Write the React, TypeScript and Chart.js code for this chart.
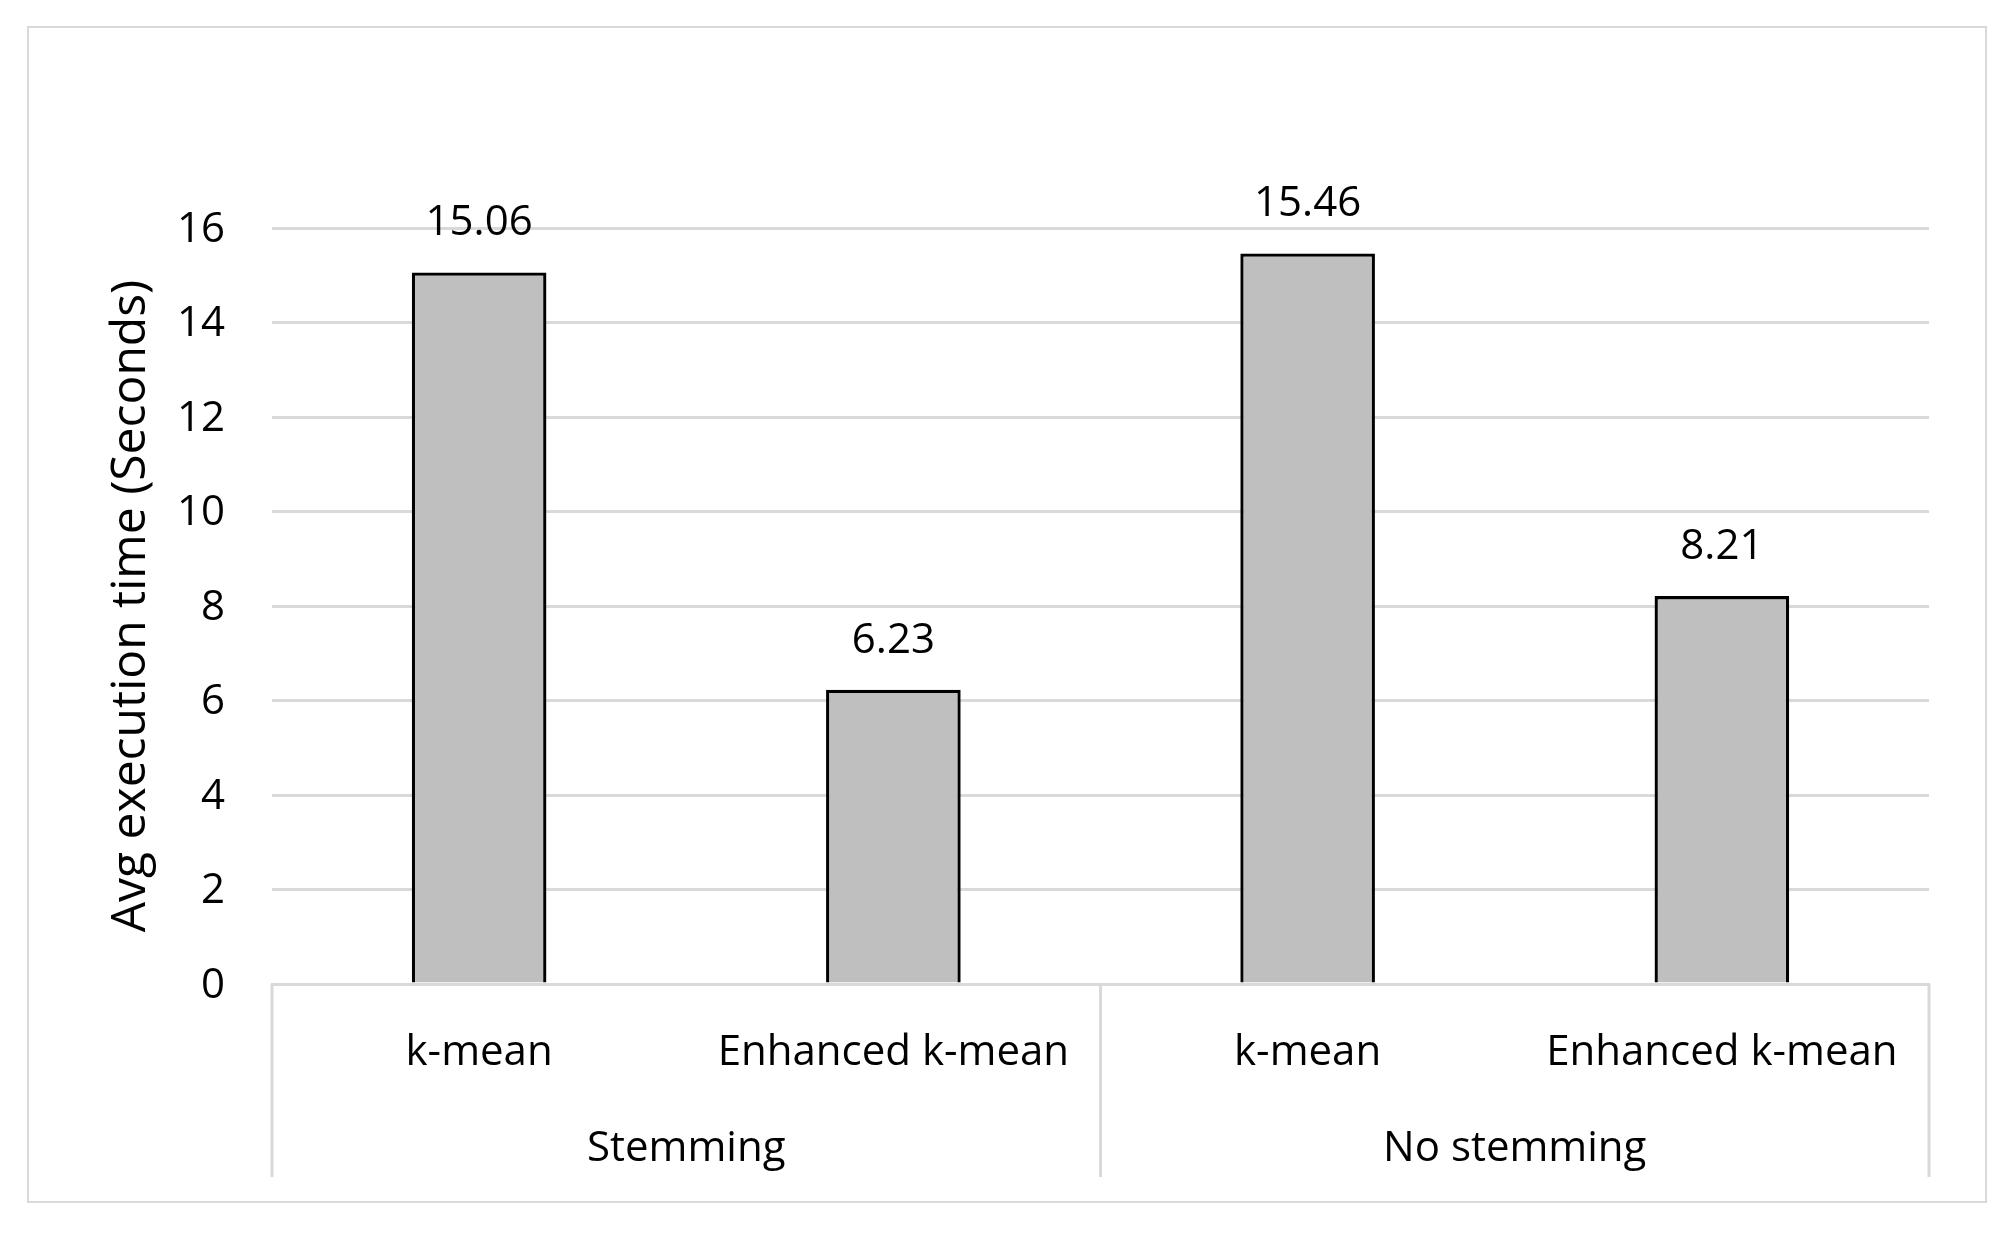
import React, { useEffect, useRef } from "react";
import { Chart, registerables } from "chart.js";

Chart.register(...registerables);

const groups = ["Stemming", "No stemming"];
const methods = ["k-mean", "Enhanced k-mean", "k-mean", "Enhanced k-mean"];
const execTimes = [15.06, 6.23, 15.46, 8.21];
const yMin = 0;
const yMax = 16;
const yStep = 2;
const yTitle = "Avg execution time (Seconds)";

const FONT = "'Open Sans', 'Noto Sans', sans-serif";
const GRID = "#d9d9d9";

const valueLabels = {
  id: "valueLabels",
  afterDatasetsDraw(chart: any) {
    const ctx = chart.ctx;
    const meta = chart.getDatasetMeta(0);
    ctx.save();
    ctx.font = `42px ${FONT}`;
    ctx.fillStyle = "#000";
    ctx.textAlign = "center";
    ctx.textBaseline = "middle";
    meta.data.forEach((el: any, i: number) => {
      ctx.fillText(execTimes[i].toFixed(2), el.x, el.y - 49);
    });
    ctx.restore();
  },
};

const groupSeparators = {
  id: "groupSeparators",
  afterDraw(chart: any) {
    const ctx = chart.ctx;
    const x = chart.scales.x;
    const x2 = chart.scales.x2;
    const mid = (x.getPixelForValue(1) + x.getPixelForValue(2)) / 2;
    const xs = [x.left, mid, x.right];
    ctx.save();
    ctx.strokeStyle = GRID;
    ctx.lineWidth = 3;
    xs.forEach((px) => {
      ctx.beginPath();
      ctx.moveTo(px, chart.chartArea.bottom);
      ctx.lineTo(px, x2.bottom);
      ctx.stroke();
    });
    ctx.restore();
  },
};

export default function App() {
  const ref = useRef<HTMLCanvasElement>(null);
  useEffect(() => {
    if (!ref.current) return;
    const chart = new Chart(ref.current, {
      type: "bar",
      data: {
        labels: methods,
        datasets: [
          {
            data: execTimes,
            backgroundColor: "#bfbfbf",
            borderColor: "#000",
            borderWidth: 3.3,
            categoryPercentage: 1,
            barPercentage: 0.325,
          },
        ],
      },
      options: {
        responsive: false,
        animation: false,
        devicePixelRatio: 1,
        layout: { padding: { top: 200, right: 56, bottom: 24, left: 0 } },
        plugins: {
          legend: { display: false },
          tooltip: { enabled: false },
        },
        scales: {
          y: {
            min: yMin,
            max: yMax,
            ticks: {
              stepSize: yStep,
              padding: 47,
              labelOffset: 2,
              color: "#000",
              font: { family: FONT, size: 42 },
            },
            grid: { color: GRID, lineWidth: 3, drawTicks: false },
            border: { display: false },
            title: {
              display: true,
              text: yTitle,
              color: "#000",
              font: { family: FONT, size: 48 },
              padding: { top: 74, bottom: 0 },
            },
            afterFit(scale: any) {
              scale.width = 243;
            },
          },
          x: {
            weight: 0,
            ticks: {
              padding: 44,
              color: "#000",
              maxRotation: 0,
              autoSkip: false,
              font: { family: FONT, size: 42 },
            },
            grid: { display: false, drawTicks: false },
            border: { display: true, color: GRID, width: 3 },
            afterFit(scale: any) {
              scale.height = 96;
            },
          },
          x2: {
            type: "category",
            position: "bottom",
            weight: 1,
            labels: groups,
            offset: true,
            ticks: {
              padding: 44,
              color: "#000",
              maxRotation: 0,
              autoSkip: false,
              font: { family: FONT, size: 42 },
            },
            grid: { display: false, drawTicks: false },
            border: { display: false },
            afterFit(scale: any) {
              scale.height = 97;
            },
          },
        },
      } as any,
      plugins: [valueLabels, groupSeparators],
    });
    return () => chart.destroy();
  }, []);

  return (
    <div
      style={{
        position: "absolute",
        left: 27,
        top: 26,
        width: 1956,
        height: 1173,
        border: "2px solid #d9d9d9",
        background: "#fff",
      }}
    >
      <canvas ref={ref} width={1956} height={1173} style={{ display: "block" }} />
    </div>
  );
}
